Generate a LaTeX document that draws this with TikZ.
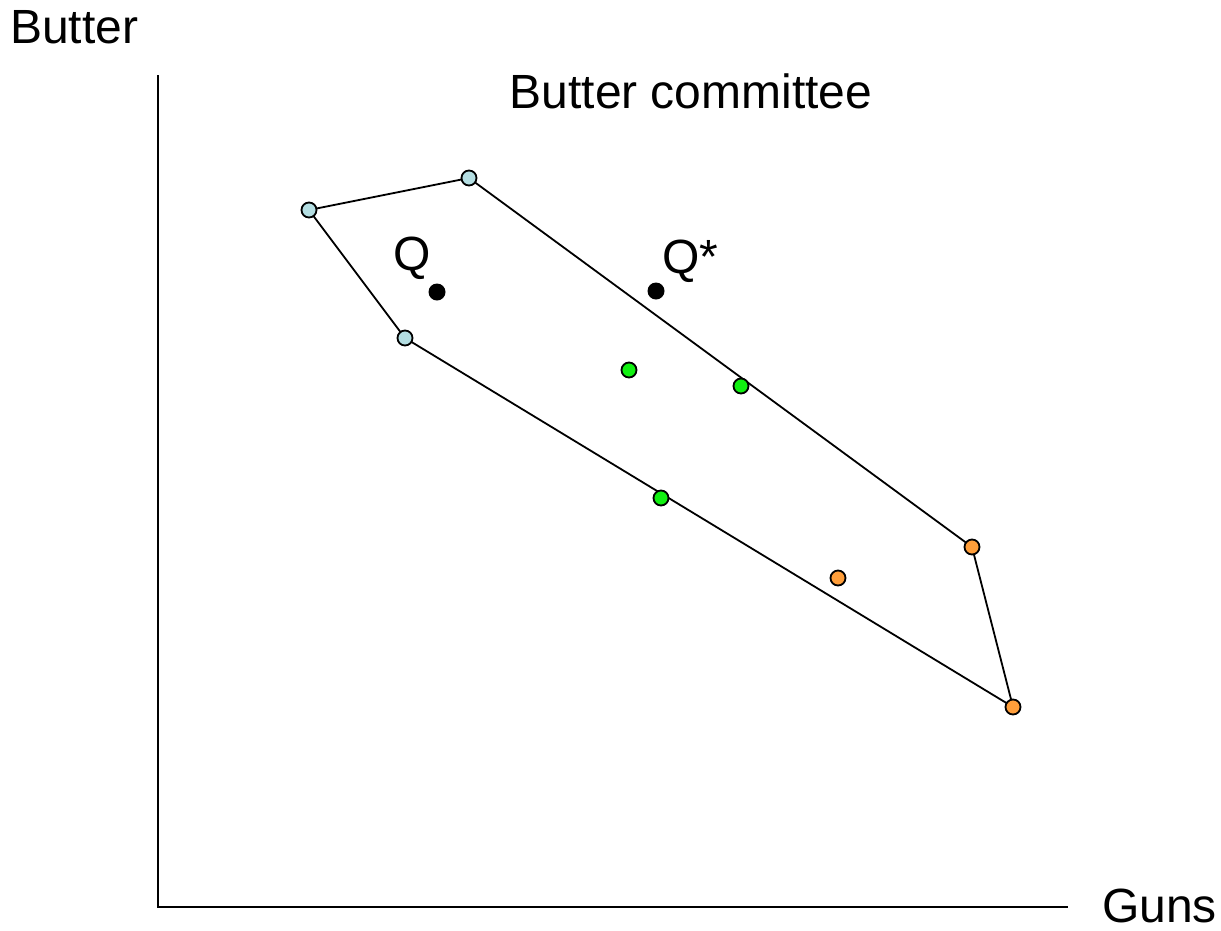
\documentclass[tikz,border=0pt]{standalone}
\usepackage{fontspec}
\setmainfont{Liberation Sans}
\definecolor{ltblue}{HTML}{B4DEE2}
\definecolor{ptgreen}{HTML}{11F011}
\definecolor{ptorange}{HTML}{FF9E3A}
\begin{document}
\begin{tikzpicture}[x=1pt,y=-1pt,
  lbl/.style={font=\fontsize{48}{56}\selectfont, inner sep=0pt},
  pt/.style={circle, draw=black, line width=1.8pt, minimum size=15pt, inner sep=0pt},
  blk/.style={circle, fill=black, minimum size=17pt, inner sep=0pt},
  edge/.style={draw=black, line width=1.8pt}]
\useasboundingbox (0,0) rectangle (1221,930);
\coordinate (o) at (158,907);
\coordinate (ytop) at (158,75);
\coordinate (xend) at (1068,907);
\draw[line width=1.8pt] (ytop) -- (o) -- (xend);
\node[lbl, anchor=base west] (butter) at (10,43) {Butter};
\node[lbl, anchor=base east] (guns) at (1217,922) {Guns};
\node[lbl, anchor=base] (title) at (691,108) {Butter committee};
% polygon vertices
\coordinate (a) at (309,210);
\coordinate (b) at (469,178);
\coordinate (c) at (972,547);
\coordinate (d) at (1013,707);
\coordinate (e) at (405,338);
\draw[edge] (a) -- (b) -- (c) -- (d) -- (e) -- cycle;
\node[pt, fill=ltblue] (pa) at (a) {};
\node[pt, fill=ltblue] (pb) at (b) {};
\node[pt, fill=ltblue] (pe) at (e) {};
\node[pt, fill=ptgreen] (g1) at (629,370) {};
\node[pt, fill=ptgreen] (g2) at (741,386) {};
\node[pt, fill=ptgreen] (g3) at (661,498) {};
\node[pt, fill=ptorange] (pc) at (c) {};
\node[pt, fill=ptorange] (o2) at (838,578) {};
\node[pt, fill=ptorange] (pd) at (d) {};
\node[blk] (q) at (437,292) {};
\node[blk] (qs) at (656,291) {};
\node[lbl, anchor=base] (ql) at (412,270) {Q};
\node[lbl, anchor=base west] (qsl) at (662,273) {Q*};
\end{tikzpicture}
\end{document}
